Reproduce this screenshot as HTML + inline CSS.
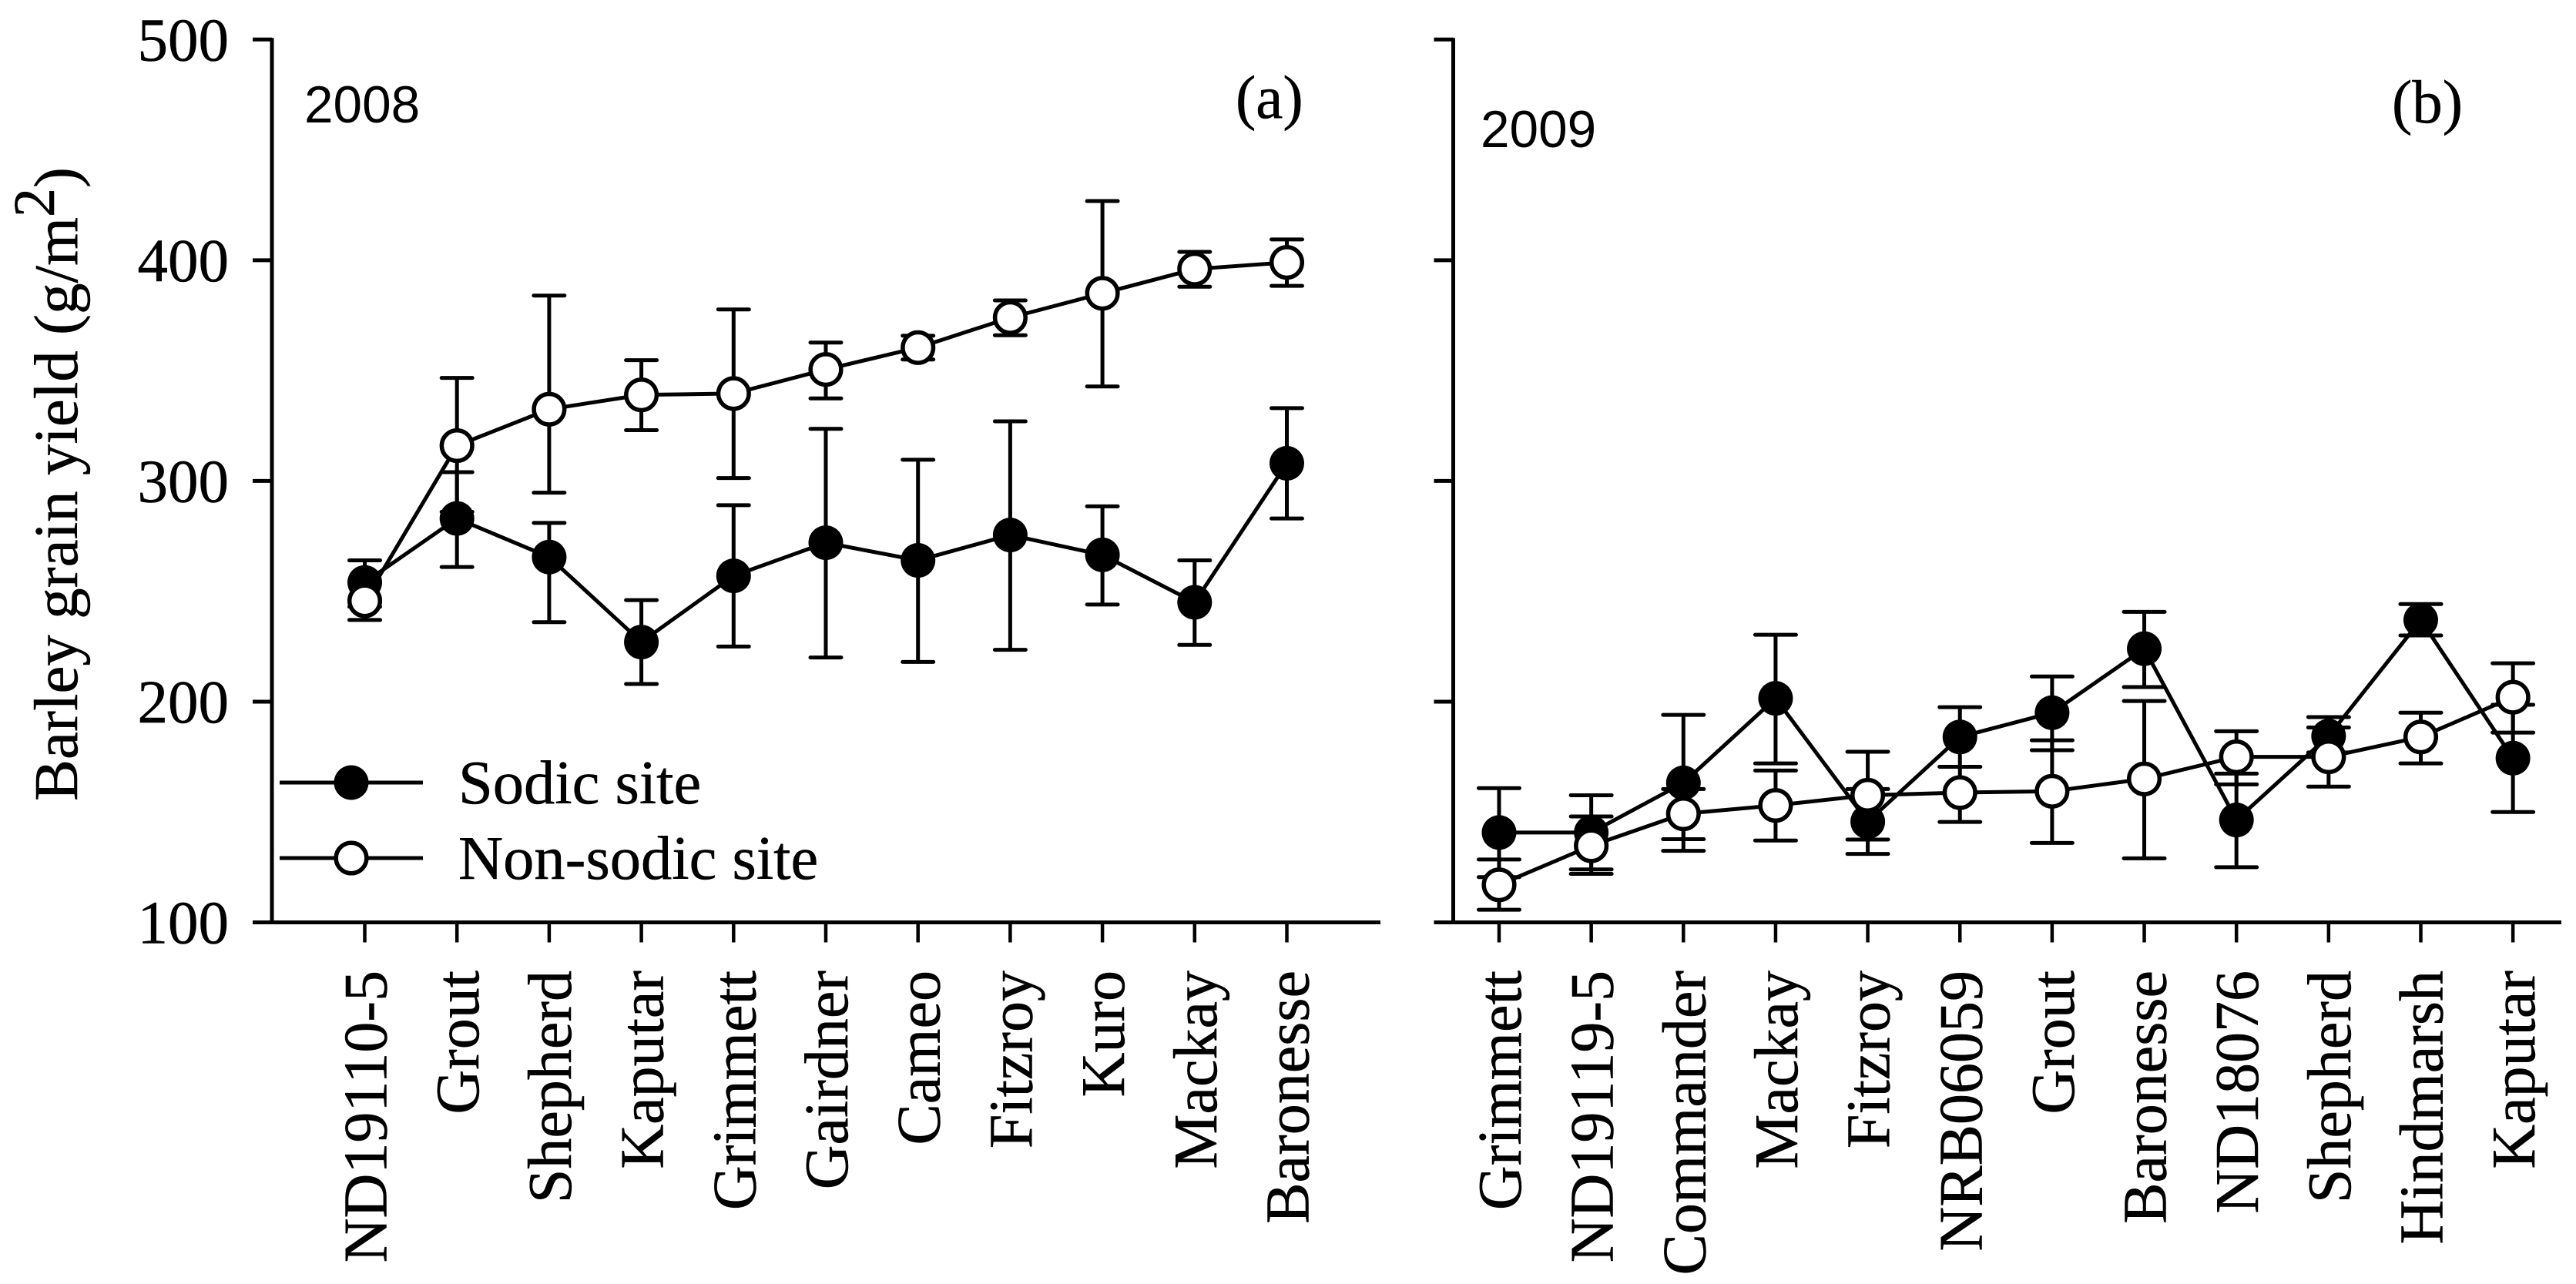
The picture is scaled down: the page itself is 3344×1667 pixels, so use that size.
<!DOCTYPE html>
<html lang="en">
<head>
<meta charset="utf-8">
<title>Barley grain yield</title>
<style>
html,body{margin:0;padding:0;background:#fff;width:3344px;height:1667px;overflow:hidden}
svg{display:block}
.serif{font-family:"Liberation Serif",serif;fill:#000;stroke:#000;stroke-width:.5px}
.sans{font-family:"Liberation Sans",sans-serif;fill:#000}
</style>
</head>
<body>
<svg id="chart" xmlns="http://www.w3.org/2000/svg" width="3344" height="1667" viewBox="0 0 3344 1667">
  <rect width="3344" height="1667" fill="#fff"/>
  <text class="serif" font-size="81" transform="translate(100,1040) rotate(-90)">Barley grain yield (g/m<tspan dy="-30" font-size="76">2</tspan><tspan dy="30">)</tspan></text>
  <text class="sans" x="395" y="159" font-size="67.5">2008</text>
  <text class="sans" x="1922" y="191" font-size="67.5">2009</text>
  <text class="serif" x="1604" y="153" font-size="79">(a)</text>
  <text class="serif" x="3105" y="159" font-size="79">(b)</text>
  <g id="plot"></g>
  <g>
    <g>
      <line x1="363" x2="549" y1="1016" y2="1016" stroke="#000" stroke-width="5"/>
      <circle cx="456" cy="1016" r="22.5" fill="#000"/>
      <text class="serif" x="595" y="1043" font-size="80.5">Sodic site</text>
    </g>
    <g>
      <line x1="363" x2="549" y1="1114" y2="1114" stroke="#000" stroke-width="5"/>
      <circle cx="456" cy="1114" r="19.8" fill="#fff" stroke="#000" stroke-width="5.5"/>
      <text class="serif" x="595" y="1141" font-size="80.5">Non-sodic site</text>
    </g>
  </g>
</svg>
<script>
var yTicks = [100, 200, 300, 400, 500];

var catsA = ["ND19110-5","Grout","Shepherd","Kaputar","Grimmett","Gairdner","Cameo","Fitzroy","Kuro","Mackay","Baronesse"];
var sodicA = [254, 283, 265.5, 227, 257, 272, 264, 275.5, 266.5, 245, 308];
var sodicAUp = [264, 304, 281, 246, 289, 323.6, 309.6, 327, 288.5, 264, 333];
var sodicALow = [243, 261, 236, 208, 225, 220, 218, 223.5, 244, 225.7, 283];
var nonA = [245.7, 316, 332.5, 339, 339.6, 350.5, 360.4, 374, 385, 396, 399];
var nonAUp = [254, 346.7, 384, 354.7, 377.7, 362.7, 365.8, 381.8, 426.8, 403.8, 409.4];
var nonALow = [237, 286, 294.7, 323, 301.3, 337.4, 355, 366, 342.8, 388, 388.4];

var catsB = ["Grimmett","ND19119-5","Commander","Mackay","Fitzroy","NRB06059","Grout","Baronesse","ND18076","Shepherd","Hindmarsh","Kaputar"];
var sodicB = [140.7, 140.7, 163.2, 201.5, 145.6, 184, 195, 224, 146.4, 184.4, 237, 174.4];
var sodicBUp = [160.8, 157.6, 194, 230.3, 160.4, 197.5, 211.4, 240.7, 167.4, 193, 244.2, 198.6];
var sodicBLow = [120.5, 124, 132.4, 172, 131, 170.5, 178, 206.6, 125, 177, 230, 150];
var nonB = [117, 134.7, 149.2, 153, 157.6, 158.8, 159.4, 165, 175, 175, 184, 202];
var nonBUp = [128.5, 148, 160.4, 168.8, 177.3, 170.5, 182.5, 200.3, 186.6, 188.3, 195, 217.4];
var nonBLow = [105.7, 122, 137.7, 137.1, 137.5, 145.5, 136, 129, 162.5, 161.5, 172, 186];

var SVGNS = "http://www.w3.org/2000/svg";
var plot = document.getElementById("plot");

function yScale(v) { return 1197.5 - (v - 100) * 2.8655; }
function xScaleA(i) { return 473.5 + i * 119.7; }
function xScaleB(i) { return 1946 + i * 119.65; }

function make(tag, attrs, parent) {
  var el = document.createElementNS(SVGNS, tag);
  for (var k in attrs) el.setAttribute(k, attrs[k]);
  parent.appendChild(el);
  return el;
}

function drawAxes(prefix, axisX, xLeft, xRight, xFn, cats, showLabels) {
  var g = make("g", {}, plot);
  
  

  var yAxis = make("line", {x1: axisX, x2: axisX, y1: yScale(500) - 2, y2: yScale(100) + 2, stroke: "#000", "stroke-width": 5}, g);
  
  

  var xAxis = make("line", {x1: xLeft, x2: xRight, y1: yScale(100), y2: yScale(100), stroke: "#000", "stroke-width": 5}, g);
  
  

  yTicks.forEach(function (t) {
    var tick = make("line", {x1: axisX - 25, x2: axisX, y1: yScale(t), y2: yScale(t), stroke: "#000", "stroke-width": 5}, g);
    
    
    if (showLabels) {
      var lab = make("text", {x: 297, y: yScale(t) + 27, "text-anchor": "end", "font-size": 79, "class": "serif"}, g);
      
      
      lab.textContent = String(t);
    }
  });

  cats.forEach(function (c, i) {
    var x = xFn(i);
    var tick = make("line", {x1: x, x2: x, y1: yScale(100), y2: yScale(100) + 26, stroke: "#000", "stroke-width": 4.5}, g);
    
    
    var lab = make("text", {"text-anchor": "end", "font-size": 80, "class": "serif", transform: "translate(" + (x + 28) + ",1260) rotate(-90)"}, g);
    
    
    lab.textContent = c;
  });
}

function drawSeries(name, xFn, vals, ups, lows, capW, filled) {
  var g = make("g", {}, plot);
  
  

  vals.forEach(function (v, i) {
    var x = xFn(i);
    var bar = make("path", {
      d: "M" + x + " " + yScale(ups[i]) + "V" + yScale(lows[i]) +
         "M" + (x - capW / 2) + " " + yScale(ups[i]) + "H" + (x + capW / 2) +
         "M" + (x - capW / 2) + " " + yScale(lows[i]) + "H" + (x + capW / 2),
      fill: "none", stroke: "#000", "stroke-width": 5, "stroke-linecap": "round"
    }, g);
    
    
  });

  var pts = vals.map(function (v, i) { return xFn(i) + "," + yScale(v); }).join(" ");
  var line = make("polyline", {points: pts, fill: "none", stroke: "#000", "stroke-width": 5}, g);
  
  

  vals.forEach(function (v, i) {
    var attrs = filled
      ? {cx: xFn(i), cy: yScale(v), r: 22.5, fill: "#000"}
      : {cx: xFn(i), cy: yScale(v), r: 19.8, fill: "#fff", stroke: "#000", "stroke-width": 5.5};
    var m = make("circle", attrs, g);
    
    
  });
}

drawAxes("panel-a", 353, 337, 1792, xScaleA, catsA, true);
drawAxes("panel-b", 1886.5, 1862, 3325, xScaleB, catsB, false);

drawSeries("panel-a-sodic", xScaleA, sodicA, sodicAUp, sodicALow, 40, true);
drawSeries("panel-a-non-sodic", xScaleA, nonA, nonAUp, nonALow, 40, false);
drawSeries("panel-b-sodic", xScaleB, sodicB, sodicBUp, sodicBLow, 53, true);
drawSeries("panel-b-non-sodic", xScaleB, nonB, nonBUp, nonBLow, 53, false);
</script>
</body>
</html>
